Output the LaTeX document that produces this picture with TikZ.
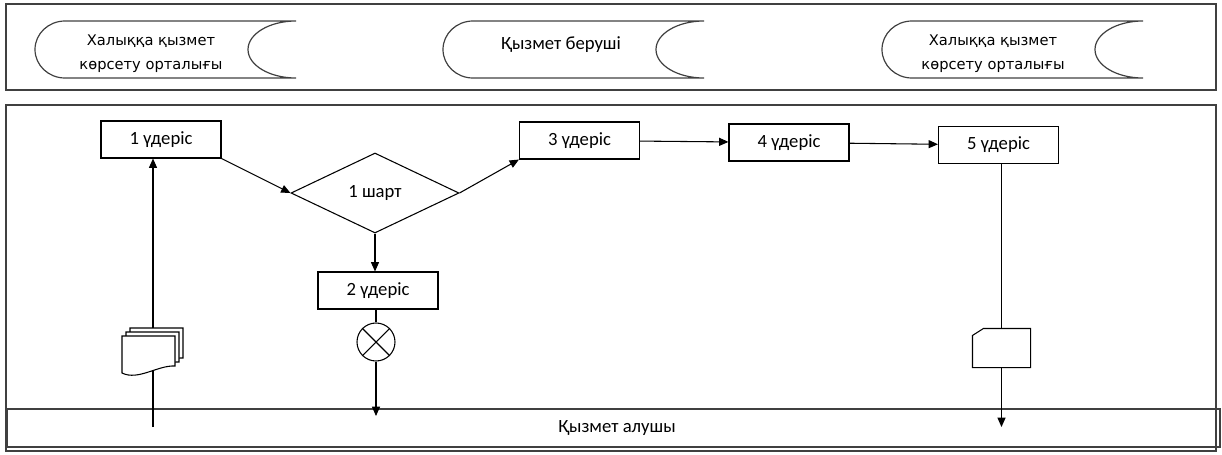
\documentclass[tikz,border=0pt]{standalone}
\usepackage{fontspec}
\setmainfont{Carlito}
\newfontfamily\verdfont{DejaVu Sans}
\usetikzlibrary{shapes.geometric,arrows.meta}

\tikzset{
  frame/.style={draw=black!75, line width=0.9pt},
  laneshape/.style={draw=black!75, line width=0.9pt},
  proc/.style={rectangle, draw, line width=0.8pt, minimum width=90pt, minimum height=27.75pt, inner sep=0pt, font=\fontsize{14}{16}\selectfont},
  cond/.style={diamond, draw, line width=0.8pt, minimum width=126pt, minimum height=60pt, inner sep=0pt, font=\fontsize{14}{16}\selectfont},
  lbl/.style={font=\fontsize{14}{16}\selectfont},
  toplbl/.style={align=center, font=\verdfont\fontsize{11}{18}\selectfont},
}

\begin{document}
\begin{tikzpicture}[x=0.75pt, y=-0.75pt, >={Triangle[length=7pt,width=6pt]}, line width=0.8pt]
\useasboundingbox (0,0) rectangle (1222,454);

% Lanes
\draw[frame] (6,4) rectangle (1216,90);
\draw[frame] (6,105) rectangle (1216,451);
\draw[frame] (7,409) rectangle (1220,447);
\node[lbl] (client) at (617,428) {Қызмет алушы};

% Top lane shapes
\foreach \l in {35,443,882}
  \draw[laneshape] (\l+30,21) arc[start angle=270, end angle=90, x radius=30, y radius=28.5]
    -- (\l+261,78) arc[start angle=90, end angle=270, x radius=48, y radius=28.5] -- cycle;
\node[toplbl] (centre1) at (151,54) {Халыққа қызмет\\көрсету орталығы};
\node[lbl] (giver) at (561,45) {Қызмет беруші};
\node[toplbl] (centre2) at (993,54) {Халыққа қызмет\\көрсету орталығы};

% Steps
\node[proc] (p1) at (161,139.5) {1 үдеріс};
\node[cond] (c1) at (375,193) {1 шарт};
\node[proc] (p2) at (378,290.5) {2 үдеріс};
\node[proc] (p3) at (579.5,140.5) {3 үдеріс};
\node[proc] (p4) at (789,142.5) {4 үдеріс};
\node[proc] (p5) at (998.5,145) {5 үдеріс};
\node[circle, draw, minimum size=28.5pt, inner sep=0pt] (x1) at (376,342) {};
\node[rectangle, minimum width=42.75pt, minimum height=28.5pt, inner sep=0pt] (card) at (1001.5,348) {};
\coordinate (in1) at (153,427);
\coordinate (out2) at (376,416);
\coordinate (out5) at (1001.5,427);

% Connectors
\draw[->] (in1) -- (in1 |- p1.south);
\draw[->] (p1.south east) -- (c1.west);
\draw[->] (c1.south) -- (c1.south |- p2.north);
\draw (p2.south -| x1.north) -- (x1.north);
\draw[->] (x1.south) -- (out2);
\draw[->] (c1.east) -- (p3.south west);
\draw[->] (p3) -- (p4);
\draw[->] (p4) -- (p5);
\draw (card.north |- p5.south) -- (card.north);
\draw[->] (card.south) -- (out5);

% Symbols
\draw (x1.north west) -- (x1.south east) (x1.north east) -- (x1.south west);
\draw (card.south west) -- ([shift={(0,7)}]card.north west) -- ([shift={(11,0)}]card.north west)
  -- (card.north east) -- (card.south east) -- cycle;
\foreach \s in {8,4,0}
  \draw[fill=white] (122+\s,336-\s) -- (122+\s,373-\s) .. controls (138+\s,381-\s) and (158+\s,365-\s) .. (175+\s,366-\s) -- (175+\s,336-\s) -- cycle;

\end{tikzpicture}
\end{document}
